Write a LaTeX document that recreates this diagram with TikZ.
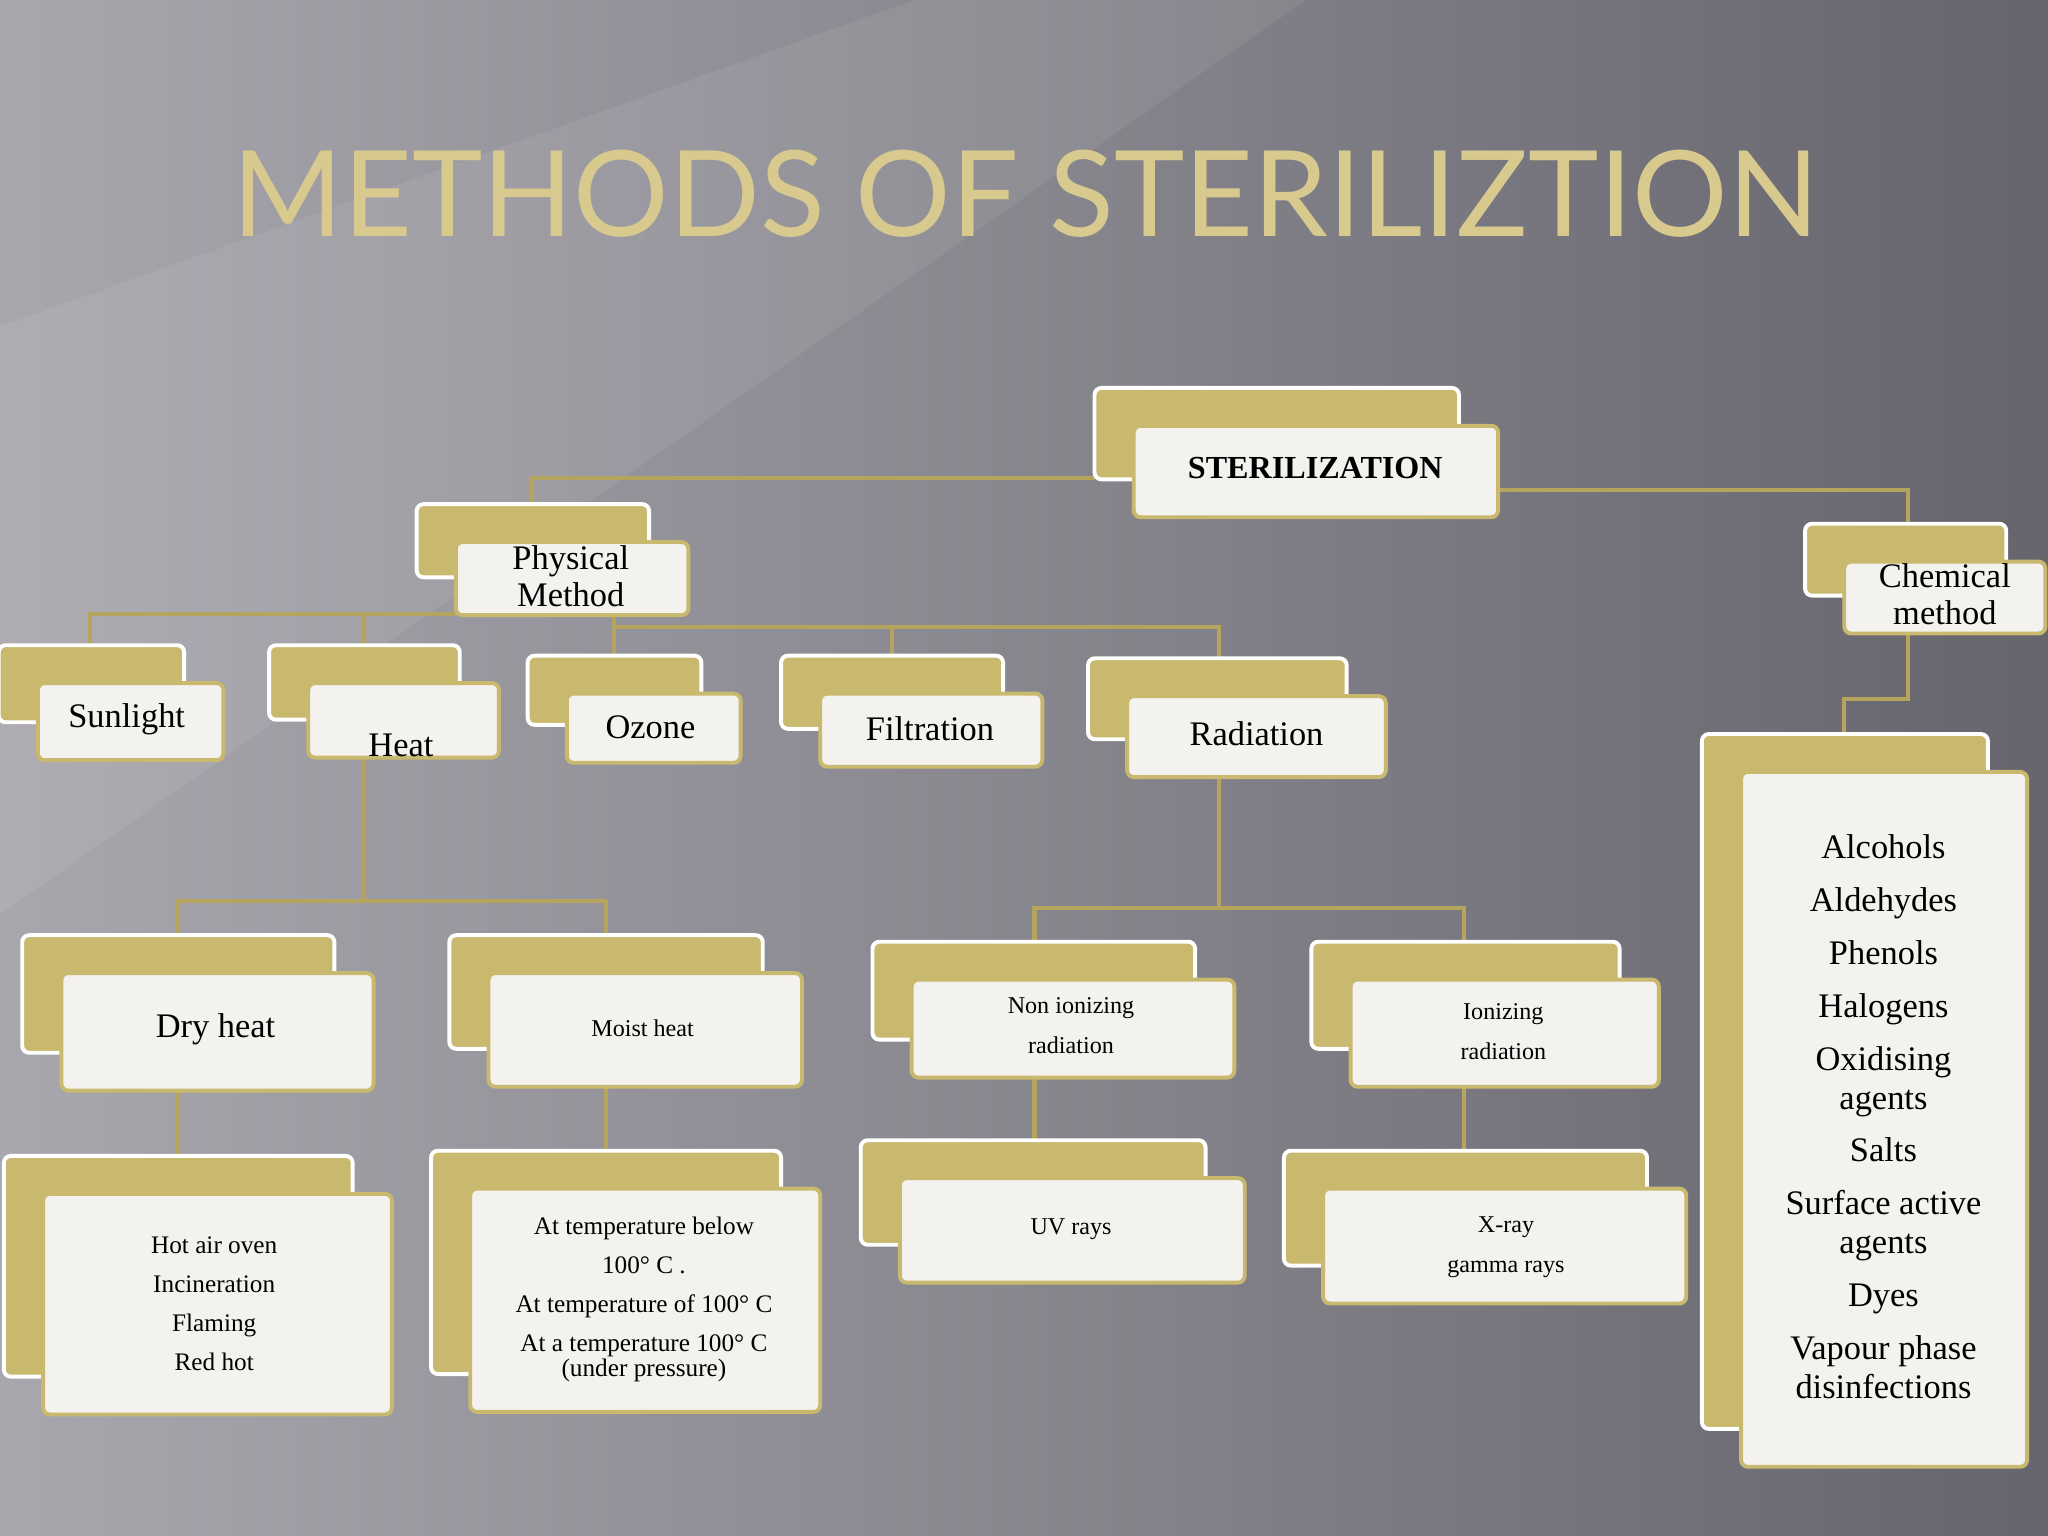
\documentclass[tikz,border=0pt]{standalone}
\usepackage{fontspec}
\setmainfont{Liberation Serif}
\newfontfamily\titlefont{Lato}
\definecolor{gold}{HTML}{C9B96E}
\definecolor{lgold}{HTML}{B5A45C}
\definecolor{frontc}{HTML}{F4F2EF}
\definecolor{titlec}{HTML}{D8C98E}
\definecolor{bgl}{HTML}{A9A7AE}
\definecolor{bgr}{HTML}{66656D}
\tikzset{
 backbox/.style={fill=gold,draw=white,line width=1.7pt,rounded corners=3pt},
 frontbox/.style={fill=frontc,draw=gold,line width=1.7pt,rounded corners=3pt},
 conn/.style={draw=lgold,line width=1.8pt},
 lab/.style={align=center,font=\fontsize{15}{17}\selectfont},
 slab/.style={align=center,font=\fontsize{10.5}{17.5}\selectfont},
}
\newcommand\bx[6]{%
 \draw[backbox] ({#2-30},{#3-29}) rectangle ({#4-30},{#5-29});
 \draw[frontbox] (#2,#3) rectangle (#4,#5);
 \coordinate (#1) at ({(#2+#4)/2},{(#3+#5)/2});}
\begin{document}
\begin{tikzpicture}[x=0.02cm,y=-0.02cm]
\useasboundingbox (0,0) rectangle (1568,1176);
\shade[shading angle=120,left color=bgl,right color=bgr] (0,0) rectangle (1568,1176);
\fill[white,opacity=0.07] (0,250) -- (700,0) -- (1000,0) -- (0,700) -- cycle;
\node[text=titlec,font=\titlefont\fontsize{52}{60}\selectfont,
  preaction={}] (title) at (785,148) {METHODS OF STERILIZTION};
% connectors
\draw[conn] (838,366) -- (407,366) -- (407,385);
\draw[conn] (1147,375) -- (1461,375) -- (1461,401);
\draw[conn] (69,495) -- (69,470) -- (349,470);
\draw[conn] (278,470) -- (278,495);
\draw[conn] (470,471) -- (470,503);
\draw[conn] (470,480) -- (933,480) -- (933,504);
\draw[conn] (683,480) -- (683,503);
\draw[conn] (278,580) -- (278,690);
\draw[conn] (136,716) -- (136,690) -- (464,690) -- (464,716);
\draw[conn] (933,595) -- (933,695);
\draw[conn] (792,721) -- (792,695) -- (1121,695) -- (1121,721);
\draw[conn] (136,835) -- (136,884);
\draw[conn] (464,832) -- (464,880);
\draw[conn] (792,825) -- (792,873);
\draw[conn] (1121,832) -- (1121,880);
\draw[conn] (1461,485) -- (1461,535) -- (1412,535) -- (1412,561);
% boxes
\bx{ster}{868}{326}{1147}{396}{}
\node[lab,font=\bfseries\fontsize{14}{16}\selectfont] at (1007,358) {STERILIZATION};
\bx{phys}{349}{415}{527}{471}{}
\node[lab,font=\fontsize{15}{16}\selectfont] at (437,441) {Physical\\Method};
\bx{chem}{1412}{430}{1566}{485}{}
\node[lab,font=\fontsize{15}{16}\selectfont] at (1489,455) {Chemical\\method};
\bx{sun}{29}{523}{171}{582}{}
\node[lab] at (97,551) {Sunlight};
\bx{heat}{236}{523}{382}{580}{}
\node[lab] at (307,571) {Heat};
\bx{ozone}{434}{531}{567}{584}{}
\node[lab] at (498,557) {Ozone};
\bx{filt}{628}{531}{798}{587}{}
\node[lab] at (712,558) {Filtration};
\bx{rad}{863}{533}{1061}{595}{}
\node[lab] at (962,562) {Radiation};
\bx{dry}{47}{745}{286}{835}{}
\node[lab] at (165,788) {Dry heat};
\bx{moist}{374}{745}{614}{832}{}
\node[slab] at (492,787) {Moist heat};
\bx{nonion}{698}{750}{945}{825}{}
\node[slab] at (820,785) {Non ionizing\\radiation};
\bx{ion}{1034}{750}{1270}{832}{}
\node[slab] at (1151,790) {Ionizing\\radiation};
\bx{hot}{33}{914}{300}{1083}{}
\node[slab,font=\fontsize{11}{17}\selectfont] at (164,998) {Hot air oven\\Incineration\\Flaming\\Red hot};
\bx{temp}{360}{910}{628}{1081}{}
\node[slab,font=\fontsize{11}{17}\selectfont] at (493,995) {At temperature below\\100° C .\\At temperature of 100° C\\At a temperature 100° C\\[-6pt](under pressure)};
\bx{uv}{689}{902}{953}{982}{}
\node[slab] at (820,941) {UV rays};
\bx{xray}{1013}{910}{1291}{998}{}
\node[slab] at (1153,955) {X-ray\\gamma rays};
\bx{list}{1333}{591}{1552}{1123}{}
\node[lab,font=\fontsize{15}{17}\selectfont] at (1442,855) {Alcohols\\[6pt]Aldehydes\\[6pt]Phenols\\[6pt]Halogens\\[6pt]Oxidising\\agents\\[6pt]Salts\\[6pt]Surface active\\agents\\[6pt]Dyes\\[6pt]Vapour phase\\disinfections};
\end{tikzpicture}
\end{document}
